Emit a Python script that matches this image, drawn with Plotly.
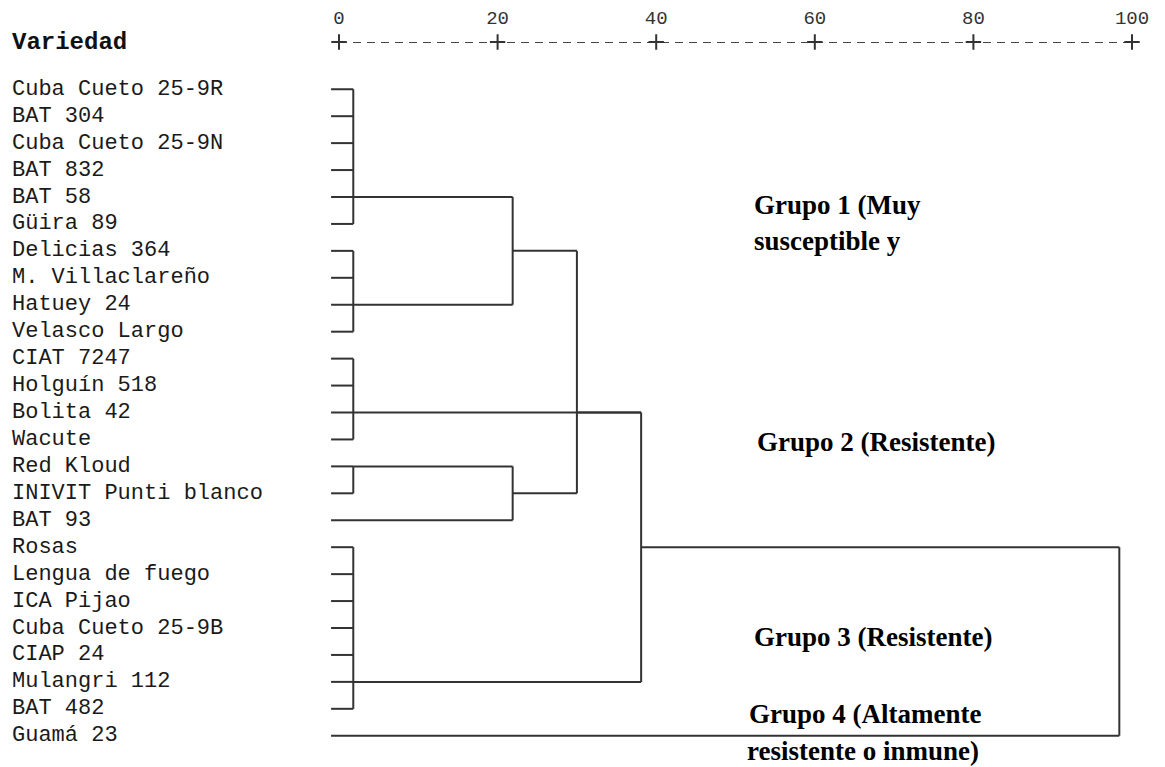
import plotly.graph_objects as go

# ---------------- data ----------------
leaves = [
    "Cuba Cueto 25-9R", "BAT 304", "Cuba Cueto 25-9N", "BAT 832", "BAT 58",
    "Güira 89", "Delicias 364", "M. Villaclareño", "Hatuey 24", "Velasco Largo",
    "CIAT 7247", "Holguín 518", "Bolita 42", "Wacute", "Red Kloud",
    "INIVIT Punti blanco", "BAT 93", "Rosas", "Lengua de fuego", "ICA Pijao",
    "Cuba Cueto 25-9B", "CIAP 24", "Mulangri 112", "BAT 482", "Guamá 23",
]

# cluster nodes: children are leaf indices (int) or node names ("n#")
node_children = [
    [0, 1, 2, 3, 4, 5],            # n0
    [6, 7, 8, 9],                  # n1
    [10, 11, 12, 13],              # n2
    [14, 15],                      # n3
    [17, 18, 19, 20, 21, 22, 23],  # n4
    ["n0", "n1"],                  # n5
    ["n3", 16],                    # n6
    ["n5", "n6"],                  # n7
    ["n7", "n2", "n4"],            # n8
    ["n8", 24],                    # n9
]
node_height = [1.8, 1.8, 1.8, 1.8, 1.8, 21.9, 21.9, 30.0, 38.1, 98.4]
node_link_row = [4, 8, 12, 14, 22, 6, 15, 12, 17, 17]
leaf_start = -1.0

tick_vals = [0, 20, 40, 60, 80, 100]
tick_text = ["0", "20", "40", "60", "80", "100"]

group_text = ["Grupo 1 (Muy", "susceptible y", "Grupo 2 (Resistente)",
              "Grupo 3 (Resistente)", "Grupo 4 (Altamente", "resistente o inmune)"]
group_x = [52.1, 52.1, 52.4, 52.1, 51.5, 51.2]
group_row = [4.3, 5.65, 13.1, 20.35, 23.2, 24.55]

# ---------------- build dendrogram segments ----------------
def child_info(c):
    if isinstance(c, int):
        return c, leaf_start
    k = int(c[1:])
    return node_link_row[k], node_height[k]

xs, ys = [], []
for k, children in enumerate(node_children):
    h = node_height[k]
    rows = []
    for c in children:
        r, x0 = child_info(c)
        rows.append(r)
        xs += [x0, h, None]
        ys += [r, r, None]
    xs += [h, h, None]
    ys += [min(rows), max(rows), None]

W, H = 1157, 759
LINE = "#333333"
X_RANGE = [-41.74, 104.16]
Y_TOP = -1.754
Y_RANGE = [25.16, Y_TOP]

fig = go.Figure()
fig.add_trace(go.Scatter(x=xs, y=ys, mode="lines",
                         line=dict(color=LINE, width=2),
                         hoverinfo="skip", showlegend=False))

# dashed scale line with "+" at each tick
fig.add_trace(go.Scatter(x=[tick_vals[0], tick_vals[-1]], y=[Y_TOP, Y_TOP],
                         mode="lines", line=dict(color="#444", width=2, dash="8px,6px"),
                         cliponaxis=False, hoverinfo="skip", showlegend=False))
fig.add_trace(go.Scatter(x=tick_vals, y=[Y_TOP] * len(tick_vals), mode="markers",
                         marker=dict(symbol="cross-thin", size=11,
                                     line=dict(color="#333", width=2)),
                         cliponaxis=False, hoverinfo="skip", showlegend=False))

annotations = []
for i, name in enumerate(leaves):
    annotations.append(dict(text=name, xref="paper", yref="y", x=2 / W, y=i,
                            xanchor="left", yanchor="middle", showarrow=False,
                            font=dict(family="Liberation Mono", size=22, color="#1a1a1a")))
annotations.append(dict(text="<b>Variedad</b>", xref="paper", yref="paper",
                        x=2 / W, y=1.0, xanchor="left", yanchor="middle",
                        showarrow=False,
                        font=dict(family="Liberation Mono", size=24, color="#111")))
for t, gx, gr in zip(group_text, group_x, group_row):
    annotations.append(dict(text=t, xref="x", yref="y", x=gx, y=gr,
                            xanchor="left", yanchor="middle", showarrow=False,
                            font=dict(family="Liberation Serif", size=27,
                                      color="#000", weight="bold")))

fig.update_layout(
    width=W, height=H,
    margin=dict(l=0, r=0, t=27, b=0),
    paper_bgcolor="white", plot_bgcolor="white",
    xaxis=dict(range=X_RANGE, side="top", tickvals=tick_vals, ticktext=tick_text,
               showgrid=False, zeroline=False, showline=False,
               ticks="outside", ticklen=9, tickcolor="rgba(0,0,0,0)",
               tickfont=dict(family="Liberation Mono", size=19, color="#333")),
    yaxis=dict(range=Y_RANGE, showgrid=False, zeroline=False, showline=False,
               showticklabels=False, ticks=""),
    annotations=annotations,
)

fig.write_html("out.html")
